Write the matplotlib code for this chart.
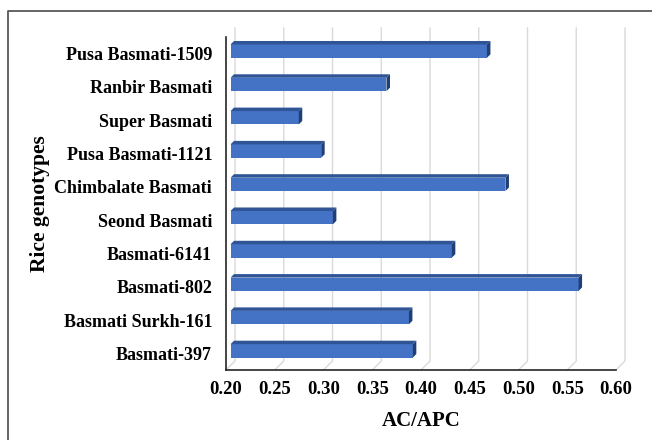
import matplotlib
matplotlib.use("Agg")
import matplotlib.pyplot as plt
from matplotlib.patches import Polygon
from matplotlib.lines import Line2D

# ---------------------------------------------------------------------------
# Data (bottom to top, as drawn)
# ---------------------------------------------------------------------------
genotypes = [
    "Basmati-397",
    "Basmati Surkh-161",
    "Basmati-802",
    "Basmati-6141",
    "Seond Basmati",
    "Chimbalate Basmati",
    "Pusa Basmati-1121",
    "Super Basmati",
    "Ranbir Basmati",
    "Pusa Basmati-1509",
]
ac_apc = [0.387, 0.383, 0.557, 0.427, 0.305, 0.482, 0.293, 0.270, 0.360, 0.463]
x_ticks = [0.20, 0.25, 0.30, 0.35, 0.40, 0.45, 0.50, 0.55, 0.60]

plt.rcParams["font.family"] = ["Liberation Serif", "DejaVu Serif"]
plt.rcParams["font.weight"] = "bold"

W, H = 652, 440
fig = plt.figure(figsize=(W / 100, H / 100), dpi=100)
ax = fig.add_axes([226 / W, 1 - 370 / H, 390 / W, 333 / H])

XMIN, XMAX = 0.20, 0.60
ax.set_xlim(XMIN, XMAX)
ax.set_ylim(-0.5, len(genotypes) - 0.5)

# pixel -> data unit helpers for the fake 3-D depth
px_x = (XMAX - XMIN) / 390
px_y = len(genotypes) / 333
DX, DY = 9 * px_x, 9 * px_y          # back wall offset
OX, OY = 4.5 * px_x, 2.5 * px_y      # bar offset from front plane
BX, BY = 3.5 * px_x, 3.5 * px_y      # bar depth

# back wall gridlines + floor slant
ylo, yhi = -0.5, len(genotypes) - 0.5
for v in x_ticks:
    ax.plot([v, v + DX, v + DX], [ylo, ylo + DY, yhi + DY],
            color="#d9d9d9", lw=1, clip_on=False, zorder=0)

# bars: front face + top + side
ypos = list(range(len(genotypes)))
bh = 0.40
ax.barh([y + OY for y in ypos], [v - XMIN for v in ac_apc], left=XMIN + OX,
        height=bh, color="#4472C4", zorder=3)
for y, v in zip(ypos, ac_apc):
    x0, x1 = XMIN + OX, v + OX
    yb, yt = y + OY - bh / 2, y + OY + bh / 2
    top = Polygon([(x0, yt), (x1, yt), (x1 + BX, yt + BY), (x0 + BX, yt + BY)],
                  closed=True, facecolor="#2F5597", edgecolor="none",
                  zorder=3, clip_on=False)
    side = Polygon([(x1, yb), (x1, yt), (x1 + BX, yt + BY), (x1 + BX, yb + BY)],
                   closed=True, facecolor="#203F75", edgecolor="none",
                   zorder=3, clip_on=False)
    ax.add_patch(top)
    ax.add_patch(side)

# axes styling
for s in ["top", "right"]:
    ax.spines[s].set_visible(False)
for s in ["left", "bottom"]:
    ax.spines[s].set_color("#262626")
    ax.spines[s].set_linewidth(1.2)
ax.set_facecolor("none")

ax.set_yticks(ypos)
ax.set_yticklabels(genotypes, fontsize=13, fontweight="bold")
ax.set_xticks(x_ticks)
ax.set_xticklabels([f"{t:.2f}" for t in x_ticks], fontsize=13.5, fontweight="bold")
ax.tick_params(axis="y", length=0, pad=10)
ax.tick_params(axis="x", length=0, pad=8)

ax.set_xlabel("AC/APC", fontsize=15, fontweight="bold", labelpad=9)
ax.set_ylabel("Rice genotypes", fontsize=15.5, fontweight="bold")
ax.yaxis.set_label_coords(-0.45, 0.5)

# chart area border (cut off at right / bottom)
fig.add_artist(Line2D([8 / W, 8 / W, 1], [0, 1 - 11 / H, 1 - 11 / H],
                      transform=fig.transFigure, color="#595959", lw=1.3))

fig.savefig("out.png", dpi=100)
